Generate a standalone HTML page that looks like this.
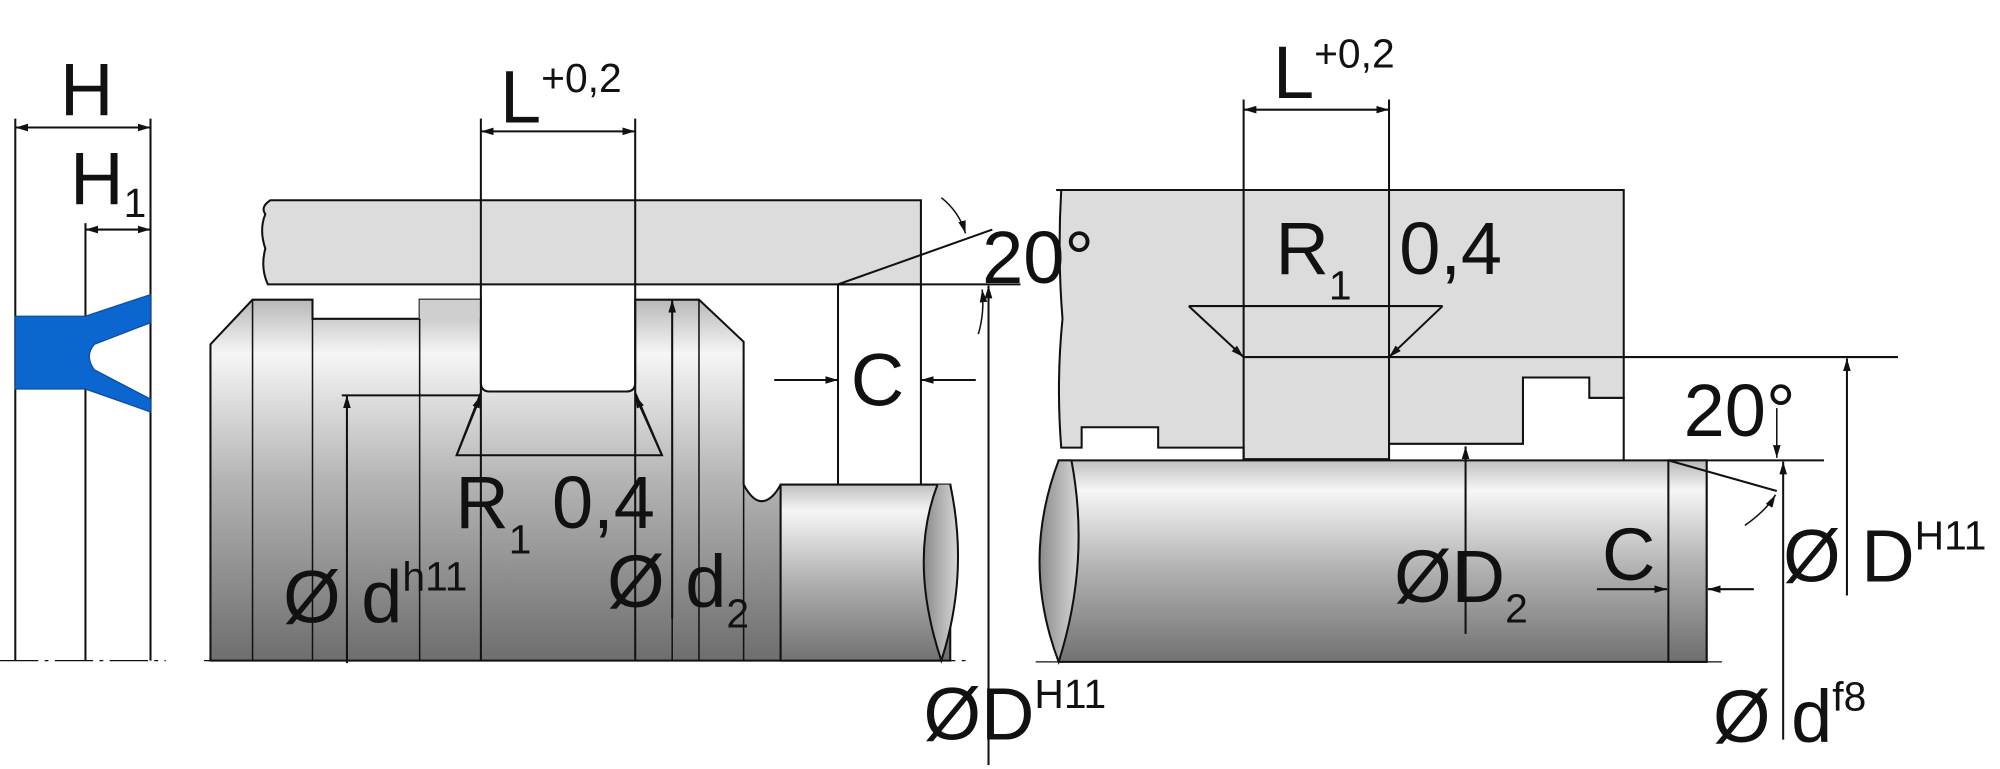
<!DOCTYPE html>
<html><head><meta charset="utf-8"><style>
html,body{margin:0;padding:0;background:#fff;}
svg{display:block;}
text{font-family:"Liberation Sans",Arial,sans-serif;fill:#111;}
</style></head><body>
<svg width="2000" height="769" viewBox="0 0 1568 603" preserveAspectRatio="none" xmlns="http://www.w3.org/2000/svg">
<defs>
<linearGradient id="g" x1="0" y1="0" x2="0" y2="1">
<stop offset="0" stop-color="#b8b8b8"/><stop offset="0.15" stop-color="#f6f6f6"/><stop offset="0.5" stop-color="#b4b4b4"/><stop offset="1" stop-color="#6e6e6e"/>
</linearGradient>
<linearGradient id="g2" x1="0" y1="0" x2="0" y2="1">
<stop offset="0" stop-color="#c0c0c0"/><stop offset="0.15" stop-color="#f6f6f6"/><stop offset="0.55" stop-color="#b0b0b0"/><stop offset="1" stop-color="#727272"/>
</linearGradient>
<linearGradient id="ge" x1="0" y1="0" x2="1" y2="0">
<stop offset="0" stop-color="#8a8a8a"/><stop offset="1" stop-color="#d8d8d8"/>
</linearGradient>
<marker id="a" viewBox="0 0 10 6" refX="10" refY="3" markerWidth="10" markerHeight="6" orient="auto-start-reverse" markerUnits="userSpaceOnUse"><path d="M0,0L10,3L0,6z" fill="#111"/></marker>
</defs>
<g stroke="#111" stroke-width="1.6" fill="none">
<!-- LEFT seal -->
<line x1="12" y1="93" x2="12" y2="518"/><line x1="67" y1="175" x2="67" y2="518"/><line x1="118" y1="93" x2="118" y2="518"/>
<line x1="12" y1="100" x2="118" y2="100" marker-start="url(#a)" marker-end="url(#a)"/>
<line x1="67" y1="180" x2="118" y2="180" marker-start="url(#a)" marker-end="url(#a)"/>
<path d="M12,248H67L118,231V253L74,270Q66,279 74,290L118,313V323L67,305H12Z" fill="#0b66d0" stroke="#0a4fa0" stroke-width="1"/>
<line x1="0" y1="518" x2="130" y2="518" stroke-dasharray="30,5,3,5" stroke-width="1"/>

<!-- MIDDLE housing -->
<path d="M212,157H722V223H210Q204,210 208,195Q203,180 208,168Q204,162 212,157Z" fill="#dcdcdc"/>
<line x1="657" y1="223" x2="800" y2="223"/>
<line x1="657" y1="223" x2="778" y2="180"/>
<line x1="657" y1="223" x2="657" y2="380"/><line x1="722" y1="223" x2="722" y2="380"/>
<!-- piston -->
<path d="M165,270L198,235H245V250H329V235H377V300Q377,307 384,307H491Q498,307 498,300V235H548L583,268V380Q590,393 597,393Q605,393 612,380H745V518H165Z" fill="url(#g)"/>
<rect x="329" y="235" width="48" height="15" fill="#cfcfcf" stroke="none"/>
<path d="M612,380H745Q758,450 738,518H612Z" fill="url(#g2)"/>
<path d="M735,380Q712,440 738,518Q760,450 745,380" fill="url(#ge)"/>
<g stroke-width="1.2">
<line x1="198" y1="235" x2="198" y2="518"/><line x1="245" y1="250" x2="245" y2="518"/><line x1="329" y1="250" x2="329" y2="518"/>
<line x1="527" y1="235" x2="527" y2="518"/><line x1="548" y1="235" x2="548" y2="518"/><line x1="583" y1="380" x2="583" y2="518"/><line x1="612" y1="380" x2="612" y2="518"/>
</g>
<line x1="377" y1="93" x2="377" y2="518"/><line x1="498" y1="93" x2="498" y2="518"/>
<line x1="377" y1="103" x2="498" y2="103" marker-start="url(#a)" marker-end="url(#a)"/>
<line x1="268" y1="310" x2="377" y2="310"/>
<line x1="272" y1="520" x2="272" y2="310" marker-end="url(#a)"/>
<line x1="527" y1="485" x2="527" y2="235" marker-end="url(#a)"/>
<path d="M377,308L358,357H519L498,308"/>
<line x1="358" y1="357" x2="377" y2="310" marker-end="url(#a)"/>
<line x1="519" y1="357" x2="498" y2="310" marker-end="url(#a)"/>
<line x1="607" y1="298" x2="657" y2="298" marker-end="url(#a)"/>
<line x1="765" y1="298" x2="722" y2="298" marker-end="url(#a)"/>
<line x1="775" y1="600" x2="775" y2="224" marker-end="url(#a)"/>
<path d="M738,155Q752,166 757,183" marker-end="url(#a)" stroke-width="1.2"/>
<path d="M767,262Q772,245 770,227" marker-end="url(#a)" stroke-width="1.2"/>
<line x1="160" y1="518" x2="760" y2="518" stroke-dasharray="30,5,3,5" stroke-width="1"/>

<!-- RIGHT housing -->
<path d="M832,149H1273V312H1246V296H1194V348H1089V360H975V351H908V335H848V351H832Q828,300 833,250Q829,200 832,149Z" fill="#dcdcdc"/>
<line x1="828" y1="149" x2="1273" y2="149"/>
<path d="M1246,312H1273V361"/>
<!-- shaft -->
<path d="M830,361H1338V519H830Z" fill="url(#g2)"/>
<path d="M830,361Q800,440 830,519Q855,440 840,361Z" fill="url(#ge)"/>
<rect x="1308" y="361" width="30" height="158" fill="url(#g)"/>
<line x1="1338" y1="361" x2="1430" y2="361"/>
<line x1="1308" y1="361" x2="1393" y2="385"/>
<line x1="975" y1="78" x2="975" y2="361"/><line x1="1089" y1="78" x2="1089" y2="361"/>
<line x1="975" y1="86" x2="1089" y2="86" marker-start="url(#a)" marker-end="url(#a)"/>
<line x1="975" y1="280" x2="1089" y2="280"/>
<line x1="1089" y1="280" x2="1488" y2="280"/>
<path d="M932,240H1131"/>
<line x1="932" y1="240" x2="975" y2="280" marker-end="url(#a)"/>
<line x1="1131" y1="240" x2="1089" y2="280" marker-end="url(#a)"/>
<line x1="1448" y1="467" x2="1448" y2="281" marker-end="url(#a)"/>
<line x1="1149" y1="497" x2="1149" y2="350" marker-end="url(#a)"/>
<line x1="1398" y1="580" x2="1398" y2="362" marker-end="url(#a)"/>
<line x1="1393" y1="320" x2="1393" y2="359" marker-end="url(#a)" stroke-width="1.2"/>
<path d="M1368,412Q1385,400 1392,388" marker-end="url(#a)" stroke-width="1.2"/>
<line x1="1252" y1="462" x2="1307" y2="462" marker-end="url(#a)"/>
<line x1="1375" y1="462" x2="1339" y2="462" marker-end="url(#a)"/>
<line x1="812" y1="519" x2="1350" y2="519" stroke-dasharray="30,5,3,5" stroke-width="1"/>
</g>
<!-- text -->
<g font-size="58">
<text x="47" y="90">H</text>
<text x="55" y="160">H<tspan font-size="32" dy="10">1</tspan></text>
<text x="392" y="96">L<tspan font-size="32" dy="-24">+0,2</tspan></text>
<text x="667" y="318">C</text>
<text x="770" y="222">20°</text>
<text x="357" y="414">R<tspan font-size="32" dy="20">1</tspan><tspan dy="-20"> 0,4</tspan></text>
<text x="222" y="488">Ø d<tspan font-size="32" dy="-25">h11</tspan></text>
<text x="476" y="476">Ø d<tspan font-size="32" dy="16">2</tspan></text>
<text x="724" y="580">ØD<tspan font-size="32" dy="-25">H11</tspan></text>
<text x="998" y="77">L<tspan font-size="32" dy="-24">+0,2</tspan></text>
<text x="1000" y="215">R<tspan font-size="32" dy="20">1</tspan></text>
<text x="1097" y="215">0,4</text>
<text x="1320" y="342">20°</text>
<text x="1256" y="455">C</text>
<text x="1093" y="472">ØD<tspan font-size="32" dy="16">2</tspan></text>
<text x="1398" y="456">Ø D<tspan font-size="32" dy="-25">H11</tspan></text>
<text x="1343" y="582">Ø d<tspan font-size="32" dy="-25">f8</tspan></text>
</g>
</svg>
</body></html>
